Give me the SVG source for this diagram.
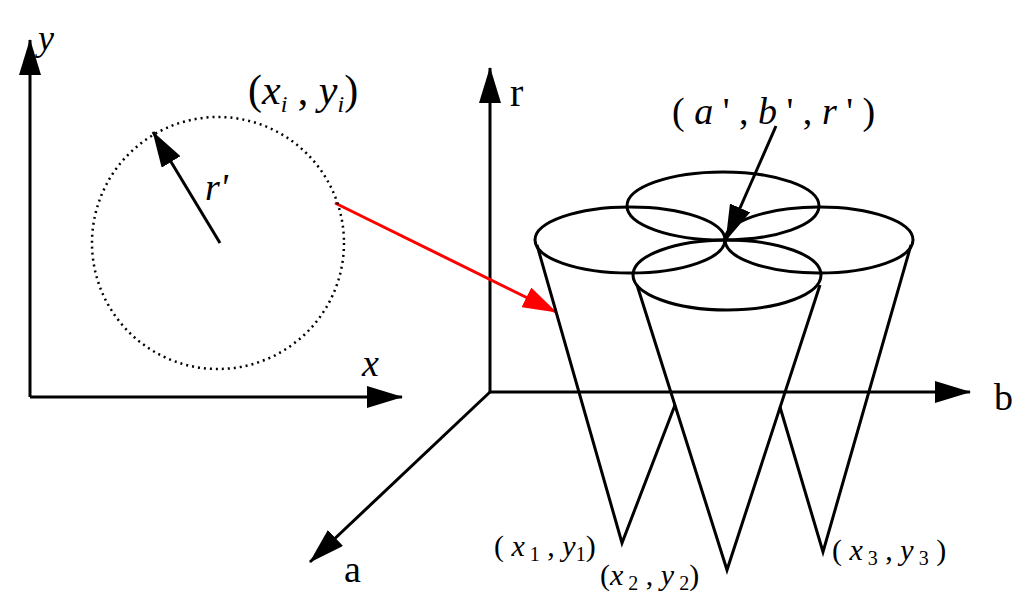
<svg xmlns="http://www.w3.org/2000/svg" width="1024" height="610" viewBox="0 0 1024 610">
<style>
.l{stroke:#000;stroke-width:3;fill:none}
.t{font-family:"Liberation Serif","Times New Roman",serif;fill:#000}
.i{font-style:italic}
</style>
<defs>
<marker id="bh" markerWidth="36" markerHeight="22" refX="35" refY="11" orient="auto" markerUnits="userSpaceOnUse" viewBox="0 0 36 22"><path d="M0,0L36,11L0,22z" fill="#000"/></marker>
<marker id="rh" markerWidth="34" markerHeight="22" refX="33" refY="11" orient="auto" markerUnits="userSpaceOnUse" viewBox="0 0 34 22"><path d="M0,0L34,11L0,22z" fill="#f00"/></marker>
</defs>
<g id="connectors">
<line class="l" x1="30" y1="397" x2="30" y2="40" marker-end="url(#bh)"/>
<line class="l" x1="30" y1="397" x2="402" y2="397" marker-end="url(#bh)"/>
<line class="l" x1="220" y1="243" x2="153" y2="132" marker-end="url(#bh)"/>
<line class="l" x1="490" y1="392" x2="490" y2="68" marker-end="url(#bh)"/>
<line class="l" x1="490" y1="392" x2="970" y2="392" marker-end="url(#bh)"/>
<line class="l" x1="490" y1="392" x2="310" y2="562" marker-end="url(#bh)"/>
<line class="l" x1="776" y1="126" x2="726" y2="240" marker-end="url(#bh)"/>
<line x1="335" y1="203" x2="556" y2="312" stroke="#f00" stroke-width="3" marker-end="url(#rh)"/>
</g>
<g id="circle2d"><circle cx="218" cy="243" r="126" fill="none" stroke="#000" stroke-width="2.5" stroke-dasharray="2 4"/></g>
<g id="cones">
<ellipse class="l" cx="723" cy="206" rx="96" ry="34"/>
<ellipse class="l" cx="630" cy="240" rx="95" ry="33"/>
<ellipse class="l" cx="819" cy="240" rx="94" ry="33"/>
<ellipse class="l" cx="727" cy="275" rx="94" ry="35"/>
<polyline class="l" points="537,245 622,543 675,405"/>
<polyline class="l" points="637,285 727,570 820,285"/>
<polyline class="l" points="780,407 823,552 911,245"/>
</g>
<g id="labels">
<text class="t i" x="38" y="50" font-size="36">y</text>
<text class="t" x="248" y="104" font-size="42">(<tspan class="i">x</tspan><tspan class="i" font-size="24" dy="8">i</tspan><tspan dy="-8"> , </tspan><tspan class="i">y</tspan><tspan class="i" font-size="24" dy="8">i</tspan><tspan dy="-8">)</tspan></text>
<text class="t i" x="205" y="200" font-size="38">r'</text>
<text class="t i" x="362" y="376" font-size="38">x</text>
<text class="t" x="510" y="106" font-size="40">r</text>
<text class="t" x="994" y="410" font-size="38">b</text>
<text class="t" x="344" y="582" font-size="38">a</text>
<text class="t" x="672" y="124" font-size="38">( <tspan class="i">a</tspan> ' , <tspan class="i">b</tspan> ' , <tspan class="i">r</tspan> ' )</text>
<text class="t" x="494" y="556" font-size="30">( <tspan class="i">x</tspan><tspan font-size="20" dy="5"> 1</tspan><tspan dy="-5"> , </tspan><tspan class="i">y</tspan><tspan font-size="20" dy="5">1</tspan><tspan dy="-5">)</tspan></text>
<text class="t" x="600" y="585" font-size="30">(<tspan class="i">x</tspan><tspan font-size="20" dy="5"> 2</tspan><tspan dy="-5"> , </tspan><tspan class="i">y</tspan><tspan font-size="20" dy="5"> 2</tspan><tspan dy="-5">)</tspan></text>
<text class="t" x="832" y="560" font-size="30">( <tspan class="i">x</tspan><tspan font-size="20" dy="5"> 3</tspan><tspan dy="-5"> , </tspan><tspan class="i">y</tspan><tspan font-size="20" dy="5"> 3</tspan><tspan dy="-5"> )</tspan></text>
</g>
</svg>
